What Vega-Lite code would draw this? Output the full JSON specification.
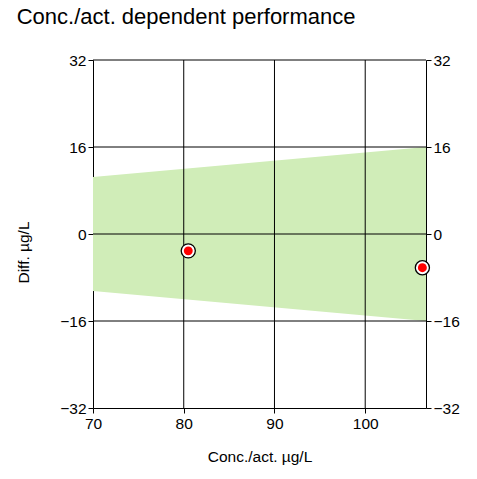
{
  "$schema": "https://vega.github.io/schema/vega-lite/v6.json",
  "width": 333,
  "height": 348,
  "autosize": {"type": "none"},
  "padding": {"left": 93, "top": 60, "right": 50, "bottom": 71},
  "background": "white",
  "title": {
    "text": "Conc./act. dependent performance",
    "anchor": "start",
    "frame": "bounds",
    "font": "Liberation Sans",
    "fontSize": 22,
    "fontWeight": "normal",
    "color": "black",
    "offset": 24
  },
  "config": {
    "view": {"stroke": null},
    "axis": {
      "labelFont": "Liberation Sans",
      "titleFont": "Liberation Sans",
      "labelFontSize": 15.5,
      "titleFontSize": 15.5,
      "titleFontWeight": "normal",
      "labelColor": "black",
      "titleColor": "black",
      "domainColor": "black",
      "tickColor": "black",
      "tickSize": 5,
      "labelFlush": false,
      "labelOverlap": false,
      "grid": false
    }
  },
  "datasets": {
    "band": [
      {"conc": 70, "lo": -10.5, "hi": 10.5},
      {"conc": 106.7, "lo": -16, "hi": 16}
    ],
    "vgrid": [{"conc": 80}, {"conc": 90}, {"conc": 100}],
    "hgrid": [{"diff": -16}, {"diff": 0}, {"diff": 16}, {"diff": 32}],
    "points": [
      {"conc": 80.5, "diff": -3.1},
      {"conc": 106.3, "diff": -6.2}
    ]
  },
  "layer": [
    {
      "data": {"name": "band"},
      "mark": {"type": "area", "color": "#d0edb8", "opacity": 1},
      "encoding": {
        "x": {"field": "conc", "type": "quantitative", "scale": {"domain": [70, 106.7], "nice": false, "zero": false},
          "axis": {"values": [70, 80, 90, 100], "title": "Conc./act. µg/L", "labelPadding": 3, "titlePadding": 18}},
        "y": {"field": "lo", "type": "quantitative", "scale": {"domain": [-32, 32], "nice": false},
          "axis": {"values": [-32, -16, 0, 16, 32], "title": "Diff. µg/L", "orient": "left", "titlePadding": 28, "labelPadding": 2, "titleY": 192}},
        "y2": {"field": "hi"}
      }
    },
    {
      "data": {"name": "vgrid"},
      "mark": {"type": "rule", "color": "black", "strokeWidth": 1},
      "encoding": {"x": {"field": "conc", "type": "quantitative"}}
    },
    {
      "data": {"name": "hgrid"},
      "mark": {"type": "rule", "color": "black", "strokeWidth": 1},
      "encoding": {
        "y": {"field": "diff", "type": "quantitative",
          "axis": {"values": [-32, -16, 0, 16, 32], "title": null, "orient": "right", "labelPadding": 2}}
      }
    },
    {
      "data": {"name": "points"},
      "mark": {"type": "point", "shape": "circle", "filled": false, "fill": "white", "fillOpacity": 1, "stroke": "black", "strokeWidth": 1.3, "opacity": 1, "size": 200, "clip": false},
      "encoding": {
        "x": {"field": "conc", "type": "quantitative"},
        "y": {"field": "diff", "type": "quantitative", "axis": null}
      }
    },
    {
      "data": {"name": "points"},
      "mark": {"type": "point", "shape": "circle", "filled": true, "color": "#ff0000", "opacity": 1, "size": 80, "clip": false},
      "encoding": {
        "x": {"field": "conc", "type": "quantitative"},
        "y": {"field": "diff", "type": "quantitative", "axis": null}
      }
    }
  ],
  "resolve": {"axis": {"y": "independent"}}
}
